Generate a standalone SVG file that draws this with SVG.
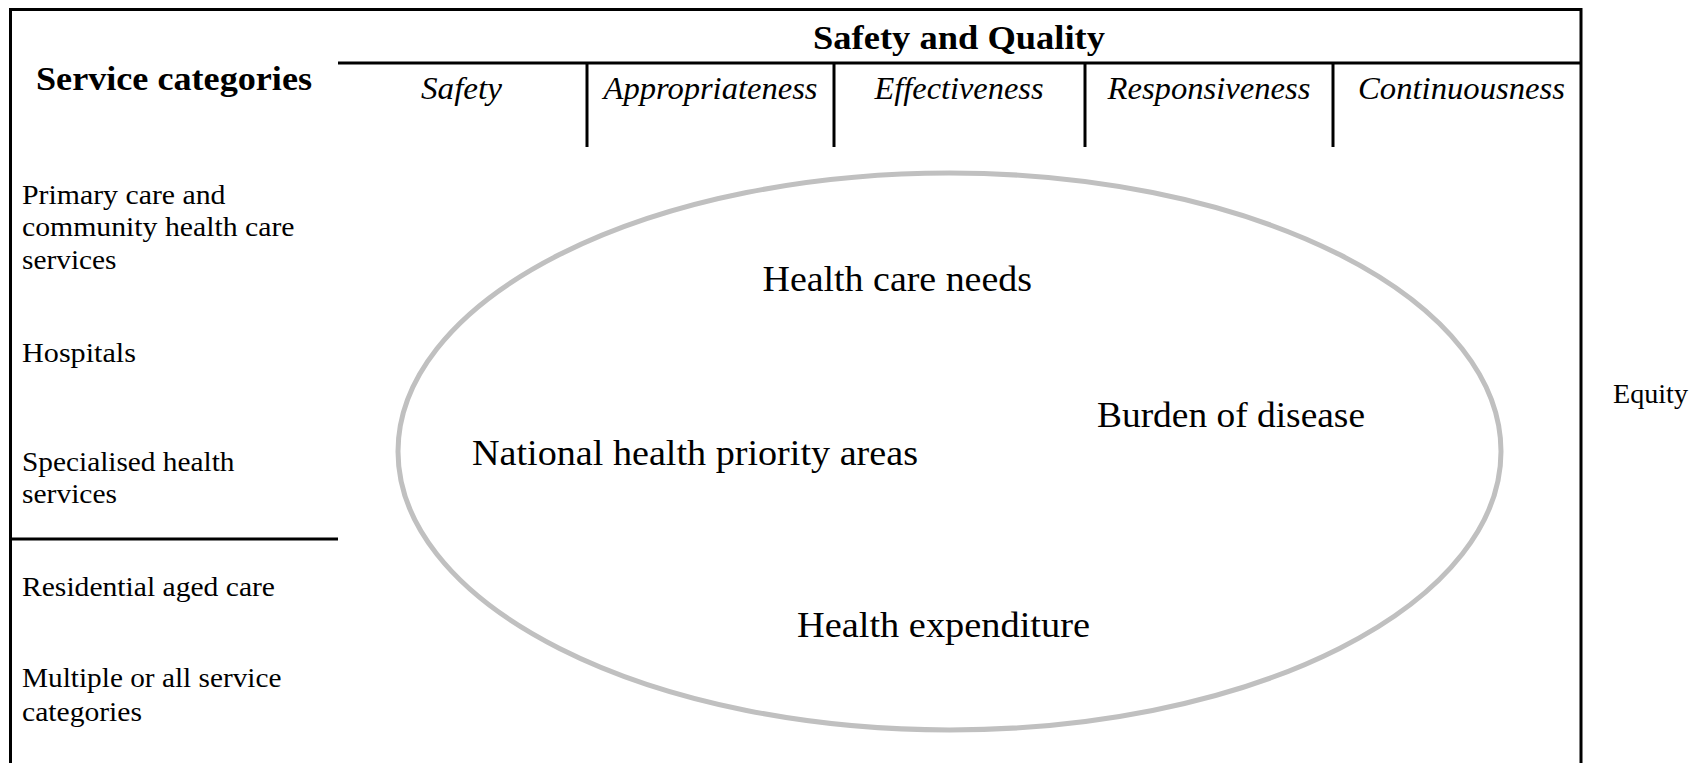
<svg xmlns="http://www.w3.org/2000/svg" width="1694" height="763" viewBox="0 0 1694 763">
  <style>
    .ln { stroke: #000; stroke-width: 3; fill: none; }
    .b { font-family: "Liberation Serif", "Times New Roman", serif; font-weight: bold; font-size: 34px; fill: #000; }
    .i { font-family: "Liberation Serif", "Times New Roman", serif; font-style: italic; font-size: 32px; fill: #000; }
    .r { font-family: "Liberation Serif", "Times New Roman", serif; font-size: 27px; fill: #000; }
    .big { font-family: "Liberation Serif", "Times New Roman", serif; font-size: 35px; fill: #000; }
  </style>
  <rect x="0" y="0" width="1694" height="763" fill="#fff"/>

  <g id="frame">
    <path class="ln" d="M10.5,770 V9.5 H1581 V770"/>
    <line class="ln" x1="338" y1="63" x2="1581" y2="63"/>
    <line class="ln" x1="10" y1="539" x2="338" y2="539"/>
    <line class="ln" x1="587" y1="63" x2="587" y2="147"/>
    <line class="ln" x1="834" y1="63" x2="834" y2="147"/>
    <line class="ln" x1="1085" y1="63" x2="1085" y2="147"/>
    <line class="ln" x1="1333" y1="63" x2="1333" y2="147"/>
  </g>

  <g id="header">
    <text class="b" x="813" y="48.5" textLength="292" lengthAdjust="spacingAndGlyphs">Safety and Quality</text>
    <text class="i" x="421" y="98.5" textLength="81" lengthAdjust="spacingAndGlyphs">Safety</text>
    <text class="i" x="603.5" y="98.5" textLength="214" lengthAdjust="spacingAndGlyphs">Appropriateness</text>
    <text class="i" x="874.5" y="98.5" textLength="169" lengthAdjust="spacingAndGlyphs">Effectiveness</text>
    <text class="i" x="1107.5" y="98.5" textLength="203" lengthAdjust="spacingAndGlyphs">Responsiveness</text>
    <text class="i" x="1358" y="98.5" textLength="207" lengthAdjust="spacingAndGlyphs">Continuousness</text>
  </g>

  <g id="service-categories">
    <text class="b" x="36" y="89.5" textLength="276" lengthAdjust="spacingAndGlyphs">Service categories</text>
    <text class="r" x="22" y="204" textLength="203.5" lengthAdjust="spacingAndGlyphs">Primary care and</text>
    <text class="r" x="22" y="235.5" textLength="272.5" lengthAdjust="spacingAndGlyphs">community health care</text>
    <text class="r" x="22" y="269" textLength="94.5" lengthAdjust="spacingAndGlyphs">services</text>
    <text class="r" x="22" y="362" textLength="114" lengthAdjust="spacingAndGlyphs">Hospitals</text>
    <text class="r" x="22" y="470.5" textLength="212.5" lengthAdjust="spacingAndGlyphs">Specialised health</text>
    <text class="r" x="22" y="502.5" textLength="95" lengthAdjust="spacingAndGlyphs">services</text>
    <text class="r" x="22" y="595.5" textLength="253" lengthAdjust="spacingAndGlyphs">Residential aged care</text>
    <text class="r" x="22" y="687" textLength="259.5" lengthAdjust="spacingAndGlyphs">Multiple or all service</text>
    <text class="r" x="22" y="720.5" textLength="120" lengthAdjust="spacingAndGlyphs">categories</text>
  </g>

  <g id="ellipse">
    <ellipse cx="949.5" cy="451.5" rx="551.5" ry="278.5" fill="none" stroke="#c0c0c0" stroke-width="5"/>
    <text class="big" x="762.5" y="290.5" textLength="269.5" lengthAdjust="spacingAndGlyphs">Health care needs</text>
    <text class="big" x="1097" y="426.5" textLength="268" lengthAdjust="spacingAndGlyphs">Burden of disease</text>
    <text class="big" x="472" y="465" textLength="446" lengthAdjust="spacingAndGlyphs">National health priority areas</text>
    <text class="big" x="797" y="636.5" textLength="293" lengthAdjust="spacingAndGlyphs">Health expenditure</text>
  </g>

  <g id="equity">
    <text class="r" x="1613" y="403" textLength="75" lengthAdjust="spacingAndGlyphs">Equity</text>
  </g>
</svg>
